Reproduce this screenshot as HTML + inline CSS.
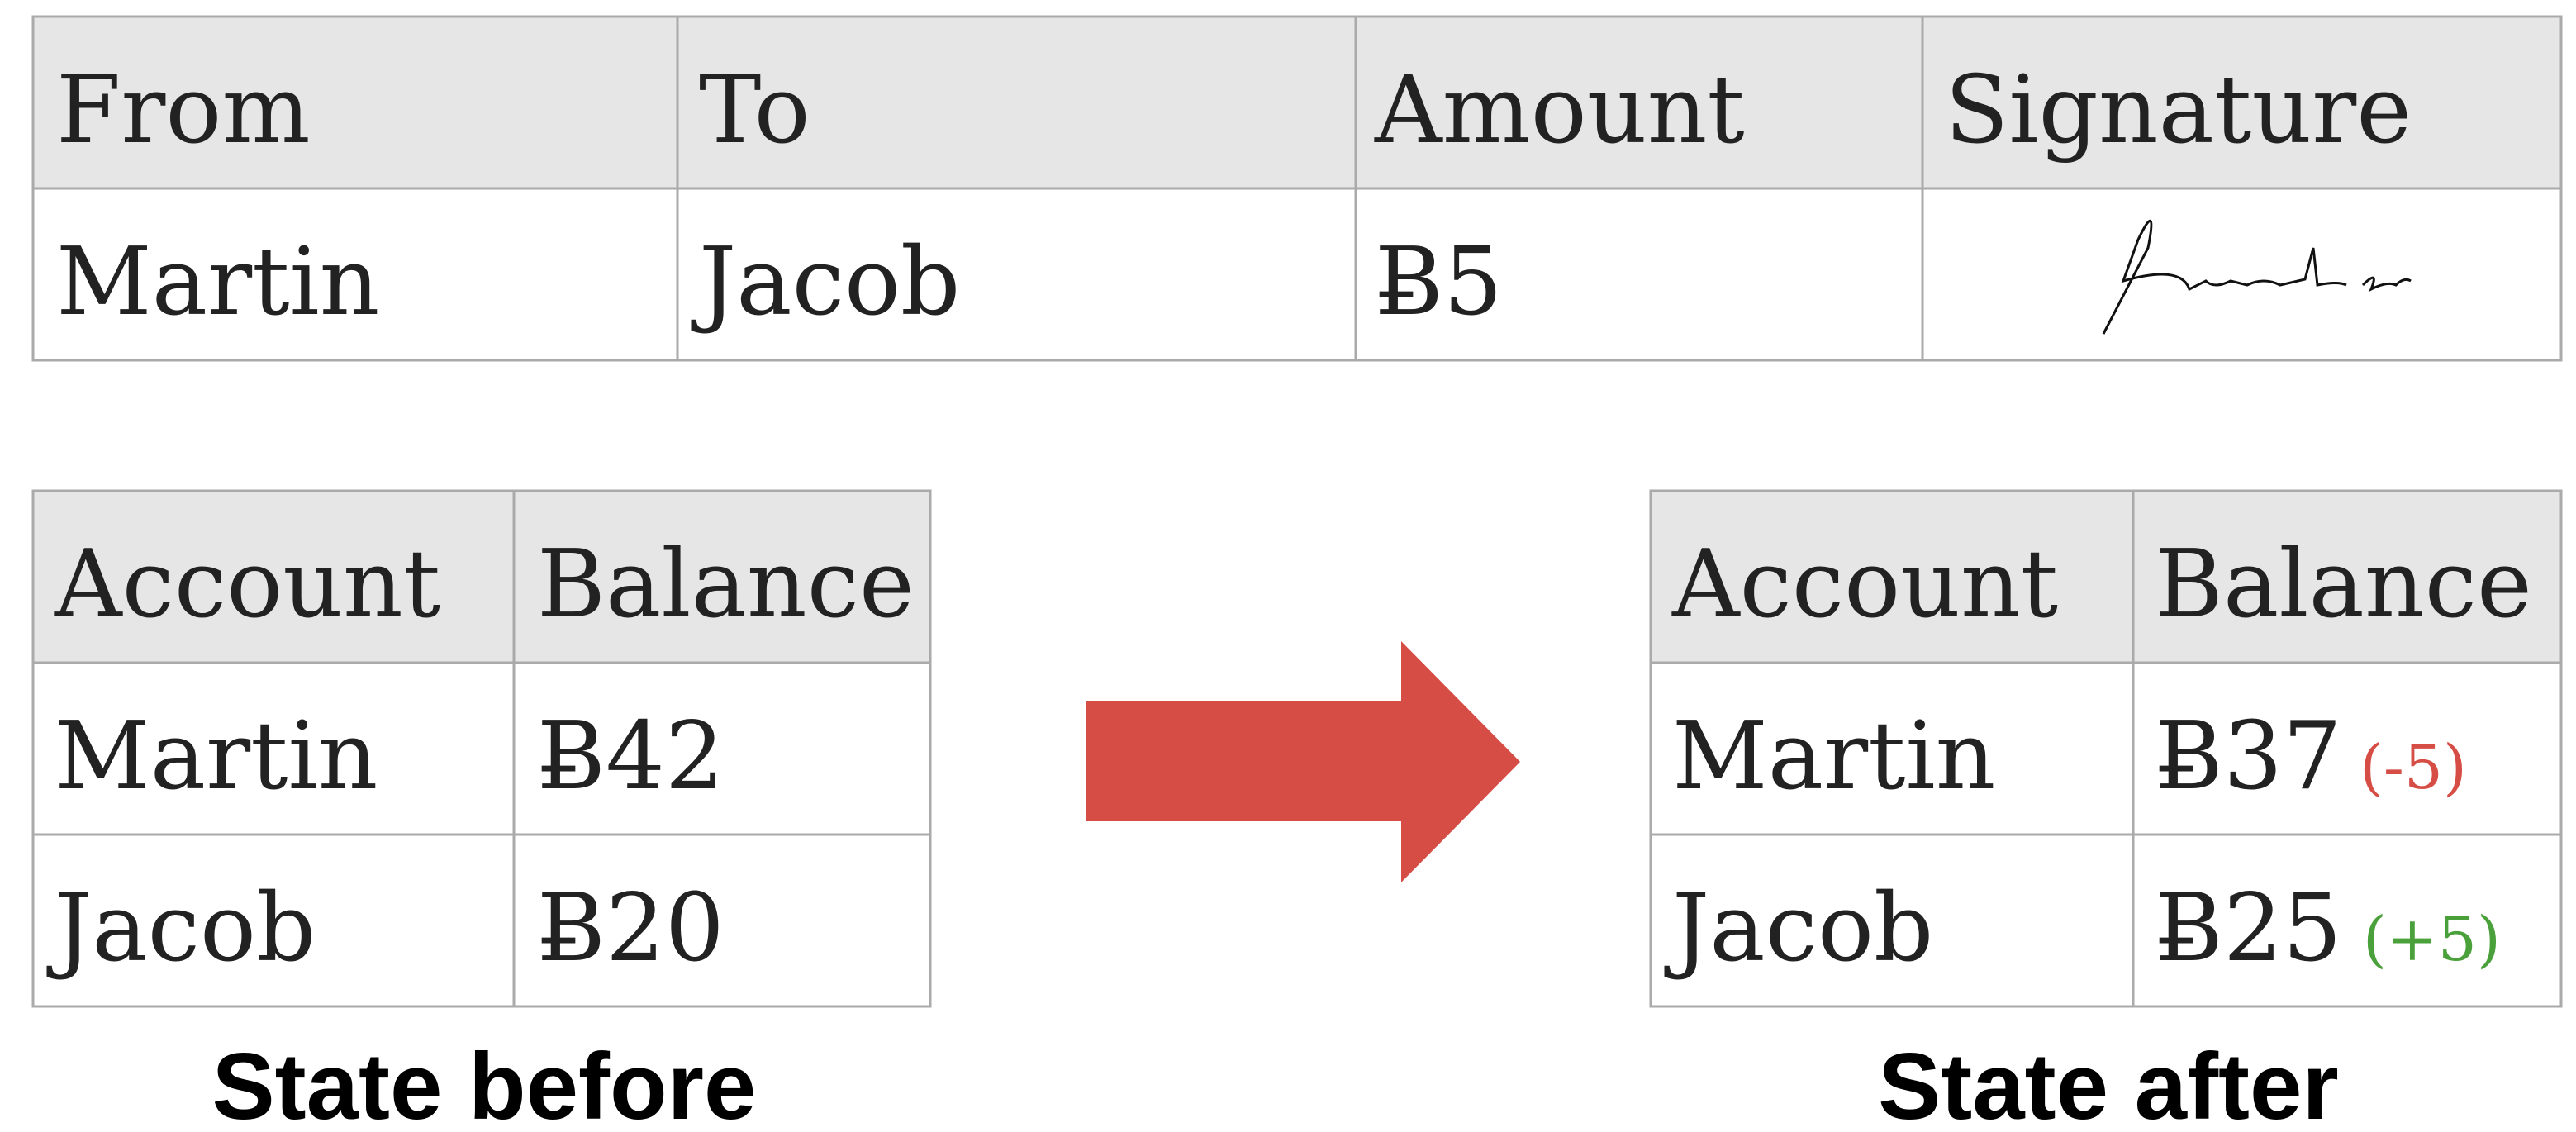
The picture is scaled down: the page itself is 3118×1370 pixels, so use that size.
<!DOCTYPE html>
<html><head><meta charset="utf-8"><style>html,body{margin:0;padding:0;background:#fff}svg{display:block}</style></head><body>
<svg width="3118" height="1370" viewBox="0 0 3118 1370" xmlns="http://www.w3.org/2000/svg">
<g stroke="#aaa" stroke-width="3">
<rect x="40" y="20" width="3060" height="208" fill="#e6e6e6"/>
<rect x="40" y="228" width="3060" height="208" fill="#fff"/>
<line x1="820" y1="20" x2="820" y2="436"/><line x1="1641" y1="20" x2="1641" y2="436"/><line x1="2327" y1="20" x2="2327" y2="436"/>
<rect x="40" y="594" width="1086" height="208" fill="#e6e6e6"/>
<rect x="40" y="802" width="1086" height="416" fill="#fff"/>
<line x1="40" y1="1010" x2="1126" y2="1010"/><line x1="622" y1="594" x2="622" y2="1218"/>
<rect x="1998" y="594" width="1102" height="208" fill="#e6e6e6"/>
<rect x="1998" y="802" width="1102" height="416" fill="#fff"/>
<line x1="1998" y1="1010" x2="3100" y2="1010"/><line x1="2582" y1="594" x2="2582" y2="1218"/>
</g>
<g font-family="DejaVu Serif, serif" font-size="113" fill="#222">
<text x="68" y="172">From</text><text x="846" y="172">To</text><text x="1664" y="172">Amount</text><text x="2354" y="172">Signature</text>
<text x="68" y="380">Martin</text><text x="846" y="380">Jacob</text><text x="1664" y="380">Ƀ5</text>
<text x="66" y="746">Account</text><text x="650" y="746">Balance</text>
<text x="66" y="954">Martin</text><text x="650" y="954">Ƀ42</text>
<text x="66" y="1162">Jacob</text><text x="650" y="1162">Ƀ20</text>
<text x="2024" y="746">Account</text><text x="2608" y="746">Balance</text>
<text x="2024" y="954">Martin</text><text x="2608" y="954">Ƀ37</text>
<text x="2024" y="1162">Jacob</text><text x="2608" y="1162">Ƀ25</text>
</g>
<text x="2856" y="954" font-family="DejaVu Serif, serif" font-size="74" fill="#d64d45">(-5)</text>
<text x="2860" y="1162" font-family="DejaVu Serif, serif" font-size="74" fill="#4aa03a">(+5)</text>
<path d="M2546 404 L2600 300 Q2612 240 2588 290 L2570 340 Q2640 320 2650 350 L2670 340 Q2680 350 2700 340 L2720 345 Q2740 335 2760 345 L2790 338 L2800 300 L2805 345 Q2830 340 2840 345 M2860 345 Q2880 325 2870 350 Q2890 340 2900 345 Q2910 335 2918 340" fill="none" stroke="#111" stroke-width="3"/>
<polygon points="1314,848 1696,848 1696,776 1840,922 1696,1068 1696,994 1314,994" fill="#d64d45"/>
<g font-family="Liberation Sans, sans-serif" font-weight="bold" font-size="114" fill="#000" text-anchor="middle">
<text x="586" y="1354">State before</text><text x="2552" y="1354">State after</text>
</g>
</svg>
</body></html>
